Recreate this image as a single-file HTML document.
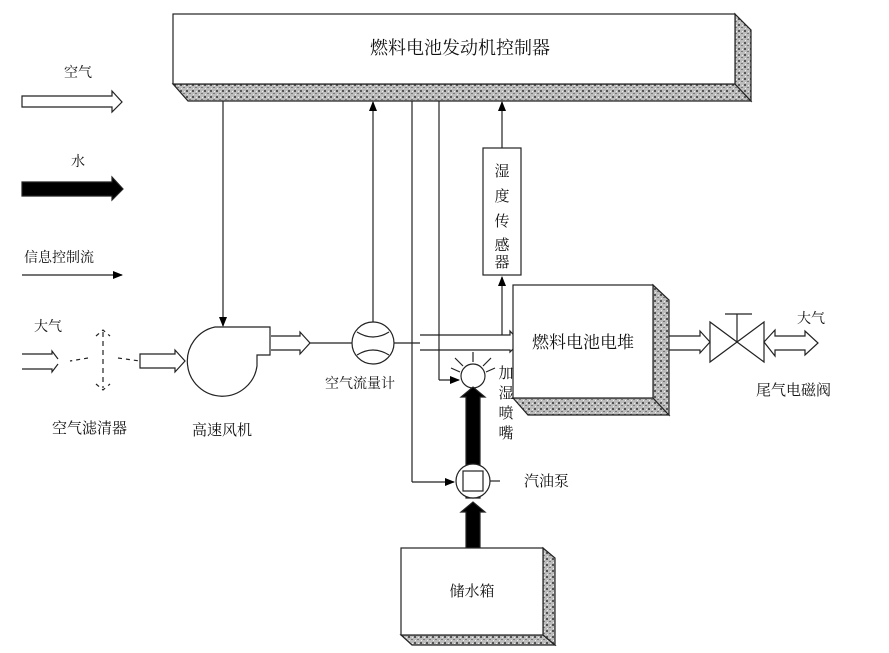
<!DOCTYPE html>
<html><head><meta charset="utf-8"><style>
html,body{margin:0;padding:0;background:#fff;}
svg text{font-family:"Liberation Serif","Noto Serif CJK SC","Noto Sans CJK SC",serif;fill:#111;}
</style></head><body>
<svg width="889" height="648" viewBox="0 0 889 648" xmlns="http://www.w3.org/2000/svg">
<defs>
<pattern id="tx" width="6" height="6" patternUnits="userSpaceOnUse">
<rect width="6" height="6" fill="#bbb"/>
<rect x="0" y="0" width="2" height="2" fill="#555"/>
<rect x="3" y="3" width="2" height="1" fill="#777"/>
<rect x="4" y="1" width="1" height="1" fill="#eee"/>
<rect x="1" y="4" width="1" height="1" fill="#eee"/>
</pattern>
<marker id="ah" markerWidth="10" markerHeight="10" refX="9" refY="5" orient="auto" markerUnits="userSpaceOnUse">
<path d="M0,1 L10,5 L0,9 Z" fill="#000"/></marker>
</defs>
<g stroke="#222" stroke-width="1.2" fill="none">
<!-- controller -->
<path d="M173,84 L735,84 L751,101 L188,101 Z" fill="url(#tx)"/>
<path d="M735,14 L751,30 L751,101 L735,84 Z" fill="url(#tx)"/>
<rect x="173" y="14" width="562" height="70" fill="#fff"/>
<!-- legend -->
<path d="M22,96 L112,96 L112,91 L122,102 L112,112 L112,107 L22,107 Z"/>
<path d="M22,182 L112,182 L112,177 L123,189 L112,200 L112,196 L22,196 Z" fill="#000"/>
<line x1="22" y1="275" x2="122" y2="275" marker-end="url(#ah)"/>
<!-- left air -->
<path d="M22,354 L52,354 L52,351 L58,359 M22,369 L52,369 L52,372 L58,364"/>
<path d="M103,332 L103,388" stroke-dasharray="5,4"/>
<path d="M96,336 L103,330 L110,336 M96,384 L103,390 L110,384 M88,358 L70,361 M118,358 L140,361" stroke-dasharray="4,4"/>
<path d="M140,354 L175,354 L175,350 L185,361 L175,372 L175,368 L140,368 Z"/>
<!-- blower -->
<line x1="223" y1="101" x2="223" y2="326" marker-end="url(#ah)"/>
<path d="M215,327 L270,327 L270,355 L257,355 L257,366 A35,35 0 1 1 215,327 Z" fill="#fff"/>
<path d="M271,336 L300,336 L300,332 L310,343 L300,354 L300,350 L271,350"/>
<line x1="310" y1="343" x2="352" y2="343"/>
<!-- flow meter -->
<circle cx="373" cy="343" r="21" fill="#fff"/>
<path d="M357,332 Q373,342 389,332 M357,355 Q373,345 389,355"/>
<line x1="373" y1="322" x2="373" y2="102" marker-end="url(#ah)"/>
<line x1="394" y1="343" x2="420" y2="343"/>
<line x1="412" y1="101" x2="412" y2="482"/>
<line x1="412" y1="482" x2="454" y2="482" marker-end="url(#ah)"/>
<line x1="439" y1="101" x2="439" y2="380"/>
<line x1="439" y1="380" x2="459" y2="380" marker-end="url(#ah)"/>
<path d="M420,335 L510,335 L510,331 L520,342 L510,352 L510,350 L420,350"/>
<!-- humidity sensor -->
<rect x="483" y="148" width="38" height="127" fill="#fff"/>
<line x1="502" y1="148" x2="502" y2="102" marker-end="url(#ah)"/>
<line x1="502" y1="335" x2="502" y2="277" marker-end="url(#ah)"/>
<!-- stack -->
<path d="M513,398 L653,398 L669,415 L528,415 Z" fill="url(#tx)"/>
<path d="M653,285 L669,300 L669,415 L653,398 Z" fill="url(#tx)"/>
<rect x="513" y="285" width="140" height="113" fill="#fff"/>
<!-- nozzle -->
<circle cx="473" cy="376" r="12" fill="#fff"/>
<path d="M473,362 L473,352 M463,366 L455,358 M483,366 L491,358 M460,372 L451,368 M486,372 L495,368"/>
<path d="M466,498 L466,397 L461,397 L473,387 L485,397 L480,397 L480,498 Z" fill="#000"/>
<!-- pump -->
<circle cx="473" cy="481" r="17" fill="#fff"/>
<rect x="463" y="471" width="20" height="20" fill="#fff"/>
<line x1="490" y1="481" x2="500" y2="481"/>
<path d="M466,548 L466,512 L461,512 L473,502 L485,512 L480,512 L480,548 Z" fill="#000"/>
<!-- tank -->
<path d="M401,635 L543,635 L555,645 L412,645 Z" fill="url(#tx)"/>
<path d="M543,548 L555,558 L555,645 L543,635 Z" fill="url(#tx)"/>
<rect x="401" y="548" width="142" height="87" fill="#fff"/>
<!-- exhaust -->
<path d="M669,336 L700,336 L700,331 L710,342 L700,353 L700,350 L669,350"/>
<path d="M710,322 L710,362 L764,322 L764,362 Z"/>
<path d="M737,342 L737,314 M725,314 L752,314"/>
<path d="M764,342 L775,330 L775,336 L805,336 L805,331 L818,343 L805,355 L805,350 L775,350 L775,356 Z"/>
</g>
<text x="460" y="54" font-size="18" text-anchor="middle">燃料电池发动机控制器</text>
<text x="78" y="77" font-size="14" text-anchor="middle">空气</text>
<text x="78" y="166" font-size="14" text-anchor="middle">水</text>
<text x="24" y="262" font-size="14">信息控制流</text>
<text x="34" y="331" font-size="14">大气</text>
<text x="52" y="433" font-size="15">空气滤清器</text>
<text x="192" y="435" font-size="15">高速风机</text>
<text x="325" y="388" font-size="14">空气流量计</text>
<text x="502" y="176" font-size="15" text-anchor="middle">湿</text>
<text x="502" y="201" font-size="15" text-anchor="middle">度</text>
<text x="502" y="226" font-size="15" text-anchor="middle">传</text>
<text x="502" y="250" font-size="15" text-anchor="middle">感</text>
<text x="502" y="267" font-size="15" text-anchor="middle">器</text>
<text x="583" y="348" font-size="17" text-anchor="middle">燃料电池电堆</text>
<text x="506" y="378" font-size="15" text-anchor="middle">加</text>
<text x="506" y="398" font-size="15" text-anchor="middle">湿</text>
<text x="506" y="418" font-size="15" text-anchor="middle">喷</text>
<text x="506" y="438" font-size="15" text-anchor="middle">嘴</text>
<text x="524" y="486" font-size="15">汽油泵</text>
<text x="472" y="596" font-size="15" text-anchor="middle">储水箱</text>
<text x="797" y="323" font-size="14">大气</text>
<text x="756" y="395" font-size="15">尾气电磁阀</text>
</svg>
</body></html>
